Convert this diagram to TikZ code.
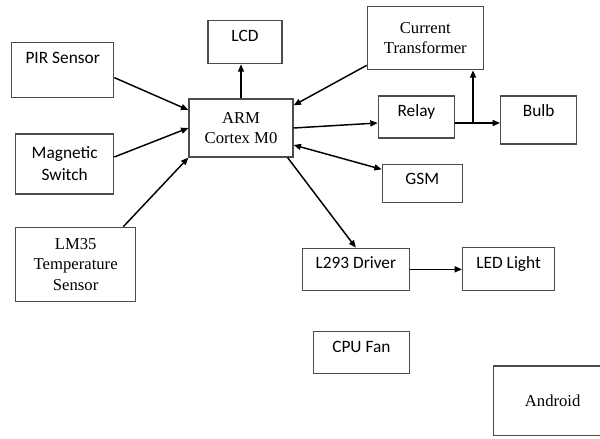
\documentclass[tikz,border=0pt]{standalone}
\usepackage{fontspec}
\setmainfont{Liberation Serif}
\newfontfamily\calibri{Carlito}
\usetikzlibrary{arrows.meta, positioning}

\begin{document}
\begin{tikzpicture}[
  module/.style={draw=black!70, line width=1pt, inner sep=0pt},
  serifbox/.style={module, align=center, font=\fontsize{12.5}{15.5}\selectfont},
  sansbox/.style={module, font=\calibri\fontsize{13}{16.5}\selectfont},
  topbox/.style={sansbox, text height=15.4pt, text depth=#1},
  wire/.style={-{Triangle[length=5.5pt,width=4.5pt]}, line width=1.1pt}
]
  \useasboundingbox (0,0) rectangle (450pt,329.25pt);

  \node[serifbox, minimum width=78pt, minimum height=43.5pt] (arm) at (180.75pt,233.25pt) {ARM\\Cortex M0};
  \node[topbox=16.85pt, minimum width=55.5pt, above=25.5pt of arm, xshift=3pt] (lcd) {LCD};
  \node[topbox=25.85pt, minimum width=76.5pt, above left=0pt and 55.5pt of arm] (pir) {PIR Sensor};
  \node[sansbox, align=center, minimum width=73.5pt, minimum height=45pt, below=26.25pt of pir.south east, anchor=north east] (mag) {Magnetic\\Switch};
  \node[serifbox, minimum width=90pt, minimum height=55.5pt, below=24pt of mag.south west, anchor=north west] (lm) {LM35\\Temperature\\Sensor};
  \node[serifbox, minimum width=87pt, minimum height=47.25pt, above right=21pt and 54.75pt of arm] (ct) {Current\\Transformer};
  \node[topbox=16.1pt, minimum width=57pt, right=63pt of arm, yshift=8.25pt] (relay) {Relay};
  \node[topbox=20.6pt, minimum width=57pt, right=33.75pt of relay.north east, anchor=north west] (bulb) {Bulb};
  \node[topbox=13.1pt, minimum width=60pt, below=18.75pt of relay.south west, anchor=north west, xshift=3pt] (gsm) {GSM};
  \node[topbox=16.1pt, minimum width=80.25pt, below right=67.5pt and 6pt of arm] (l293) {L293 Driver};
  \node[topbox=16.85pt, minimum width=69pt, right=39pt of l293] (led) {LED Light};
  \node[topbox=16.1pt, minimum width=72pt, below=30pt of l293.south east, anchor=north east] (fan) {CPU Fan};
  \node[serifbox, minimum width=88.5pt, minimum height=52pt, below=55.5pt of led.south west, anchor=north west, xshift=23.25pt] (android) {Android};

  \coordinate (tap) at ([xshift=13.5pt,yshift=-4.5pt]relay.east);

  \draw[wire] ([yshift=-5.6pt]pir.east) -- ([yshift=13.5pt]arm.west);
  \draw[wire] ([yshift=5.25pt]mag.east) -- (arm.west);
  \draw[wire] ([xshift=-9.75pt]lm.north east) -- (arm.south west);
  \draw[wire] (arm) -- (arm |- lcd.south);
  \draw[wire] ([yshift=3.75pt]ct.south west) -- ([yshift=-5.25pt]arm.north east);
  \draw[wire] (arm.east) -- ([yshift=-4.5pt]relay.west);
  \draw[wire] ([yshift=-4.5pt]relay.east) -- (tap -| bulb.west);
  \draw[wire] (tap) -- (tap |- ct.south);
  \draw[wire, {Triangle[length=5.5pt,width=4.5pt]}-{Triangle[length=5.5pt,width=4.5pt]}] ([yshift=-12.75pt]arm.east) -- ([yshift=10.5pt]gsm.west);
  \draw[wire] ([xshift=-4.5pt]arm.south east) -- (l293.north);
  \draw[wire] (l293.east) -- (l293.east -| led.west);
\end{tikzpicture}
\end{document}
